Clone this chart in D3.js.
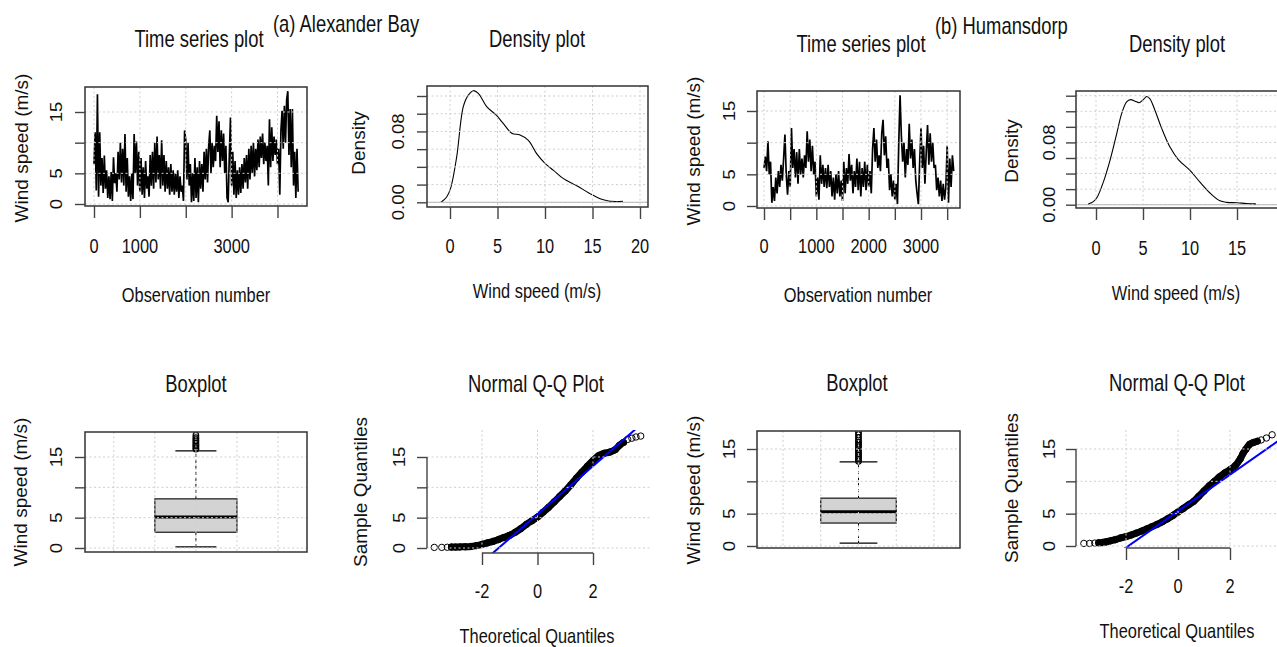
<!DOCTYPE html>
<html>
<head>
<meta charset="utf-8">
<script src="https://cdn.jsdelivr.net/npm/d3@7"></script>
<style>
  body { margin: 0; background: #fff; }
  svg { display: block; }
  text { font-family: "Liberation Sans", Arial, sans-serif; fill: #111; }
</style>
</head>
<body>
<svg id="chart" width="1277" height="647"></svg>
<script>
// ---- data ----
const obsStep = 25;  // one value per 25 observations

const tsAlexander = [6.5, 11.7, 2.2, 17.9, 1.2, 11.7, 3, 7.5, 1.8, 7.9, 2.5, 5.5, 1.0, 4.5, 0.8, 5.2, 0.5, 7.6, 3.4, 5.0,
  2.0, 8.5, 4.0, 10.0, 3.5, 9.0, 3.0, 11.4, 2.0, 7.5, 1.2, 4.5, 0.5, 5.0, 0.8, 11.4, 5.0, 10.2, 3.0, 8.5,
  2.0, 7.5, 1.5, 6.0, 1.0, 7.0, 2.5, 4.5, 1.2, 8.0, 3.0, 8.5, 2.5, 10.0, 3.5, 11.0, 4.0, 8.0, 2.5, 10.4,
  3.0, 8.0, 2.0, 7.0, 2.5, 6.0, 1.5, 6.5, 2.0, 5.5, 1.5, 5.0, 2.0, 5.5, 1.0, 4.5, 2.0, 3.0, 0.5, 12.0,
  10.5, 4.0, 10.0, 3.0, 6.5, 0.3, 5.0, 0.5, 7.5, 1.0, 6.0, 0.3, 7.0, 2.5, 6.5, 2.0, 8.5, 4.0, 9.0, 3.5,
  9.5, 12.0, 5.0, 10.0, 6.0, 9.5, 7.0, 14.4, 8.5, 13.5, 6.0, 12.0, 7.0, 11.5, 5.0, 9.5, 1.0, 0.3, 8.0, 14.1,
  3.0, 8.5, 1.5, 7.0, 1.0, 5.5, 1.5, 6.0, 1.8, 6.5, 2.5, 7.5, 3.5, 8.0, 2.5, 9.0, 4.0, 9.5, 5.0, 10.0,
  4.5, 9.0, 5.5, 10.5, 6.0, 11.0, 7.5, 11.5, 6.5, 10.0, 7.0, 9.5, 3.0, 13.8, 6.0, 12.5, 7.0, 11.0, 8.0, 10.5,
  6.5, 9.0, 1.5, 12.0, 15.2, 9.0, 16.0, 10.0, 17.0, 18.4, 8.0, 15.5, 6.0, 15.5, 3.0, 8.5, 1.0, 9.0, 2.0];

const tsHumansdorp = [6.0, 7.8, 5.5, 10.2, 5.0, 7.0, 0.5, 3.0, 0.8, 4.5, 2.0, 5.5, 3.0, 6.5, 4.0, 7.5, 11.3, 5.0, 1.8, 5.5,
  3.0, 12.3, 6.0, 9.0, 4.5, 8.5, 3.5, 9.0, 5.0, 7.5, 4.5, 8.0, 6.0, 11.8, 7.0, 10.5, 5.5, 9.5, 5.0, 7.0,
  1.5, 4.5, 1.0, 8.0, 3.5, 6.5, 3.0, 6.0, 2.8, 6.5, 3.0, 5.5, 1.5, 4.5, 1.0, 5.0, 2.0, 5.5, 1.5, 4.0,
  0.8, 7.0, 2.0, 6.0, 3.5, 8.2, 4.0, 6.5, 2.0, 5.5, 3.0, 7.5, 2.5, 7.0, 1.5, 6.0, 3.0, 7.0, 2.5, 6.5,
  3.0, 5.5, 2.0, 9.0, 12.3, 7.0, 10.5, 6.0, 8.0, 5.5, 11.5, 13.6, 8.0, 11.0, 6.0, 7.5, 2.5, 5.0, 1.5, 4.0,
  1.0, 3.5, 0.3, 10.0, 17.5, 11.0, 7.0, 10.0, 4.5, 9.0, 6.5, 13.0, 7.5, 10.5, 6.0, 9.0, 4.0, 2.0, 0.3, 7.0,
  12.3, 6.0, 9.5, 3.5, 8.5, 12.8, 6.5, 11.5, 7.0, 10.0, 6.0, 6.5, 2.5, 4.5, 1.5, 4.0, 0.8, 3.5, 1.0, 3.0,
  9.5, 0.5, 7.5, 3.0, 8.0, 5.5];

const densAlexX = [-0.95, -0.35, 0.07, 0.7, 1.4, 1.93, 2.46, 2.98, 3.86, 4.9, 5.6, 6.5, 7.37, 8.25, 9.12, 10.0, 10.9, 11.9, 13.3, 14.7, 15.8, 16.7, 18.2];
const densAlexY = [0.0, 0.006, 0.016, 0.051, 0.108, 0.121, 0.126, 0.123, 0.108, 0.098, 0.089, 0.078, 0.076, 0.070, 0.055, 0.044, 0.036, 0.027, 0.019, 0.010, 0.004, 0.0015, 0.001];

const densHumX = [-0.82, -0.28, 0.14, 0.78, 1.49, 2.2, 2.73, 3.26, 3.69, 4.15, 4.61, 5.03, 5.39, 5.74, 6.28, 6.99, 7.87, 8.76, 10.0, 11.06, 12.13, 13.19, 13.9, 15.0, 16.0, 17.0];
const densHumY = [0.001, 0.004, 0.010, 0.029, 0.057, 0.091, 0.117, 0.132, 0.135, 0.133, 0.131, 0.135, 0.139, 0.136, 0.121, 0.098, 0.074, 0.058, 0.044, 0.029, 0.015, 0.005, 0.003, 0.0025, 0.0015, 0.001];

// lower whisker, Q1, median, Q3, upper whisker
const boxAlexStats = [0.2, 2.6, 5.1, 8.1, 16.0];
const boxAlexOut = [16.3, 16.5, 16.8, 17.0, 17.3, 17.6, 17.9, 18.2, 18.6];
const boxHumStats = [0.45, 3.55, 5.3, 7.4, 13.0];
const boxHumOut = [13.1, 13.4, 13.7, 14.0, 14.3, 14.6, 14.9, 15.2, 15.5, 15.8, 16.1, 16.4, 16.8, 17.2, 17.6];

const qqAlexTheo = [-3.72, -3.45, -3.25, -3.1, -2.95, -2.8, -2.6, -2.4, -2.2, -2.0, -1.8, -1.6, -1.4, -1.2, -1.0, -0.8, -0.6, -0.4, -0.2, 0,
  0.2, 0.4, 0.6, 0.8, 1.0, 1.2, 1.4, 1.6, 1.8, 2.0, 2.2, 2.4, 2.6, 2.8, 2.95, 3.1, 3.25, 3.4, 3.55, 3.72];
const qqAlexSample = [0.1, 0.1, 0.12, 0.15, 0.15, 0.18, 0.2, 0.25, 0.4, 0.6, 0.85, 1.1, 1.4, 1.75, 2.1, 2.6, 3.2, 3.9, 4.5, 5.1,
  5.9, 6.7, 7.6, 8.5, 9.4, 10.4, 11.5, 12.5, 13.5, 14.4, 15.2, 15.6, 15.8, 16.2, 16.9, 17.4, 17.9, 18.1, 18.3, 18.45];
const qqAlexLine = [5.56, 3.97];  // intercept, slope

const qqHumTheo = [-3.62, -3.4, -3.2, -3.05, -2.9, -2.75, -2.6, -2.4, -2.2, -2.0, -1.8, -1.6, -1.4, -1.2, -1.0, -0.8, -0.6, -0.4, -0.2, 0,
  0.2, 0.4, 0.6, 0.8, 1.0, 1.2, 1.4, 1.6, 1.8, 2.0, 2.2, 2.4, 2.5, 2.6, 2.75, 2.9, 3.05, 3.2, 3.4, 3.62];
const qqHumSample = [0.4, 0.4, 0.45, 0.5, 0.55, 0.65, 0.8, 1.0, 1.25, 1.45, 1.7, 2.0, 2.3, 2.65, 3.0, 3.35, 3.75, 4.2, 4.7, 5.25,
  5.8, 6.35, 6.9, 7.7, 8.5, 9.3, 10.0, 10.7, 11.3, 11.8, 12.4, 13.5, 14.3, 14.9, 15.7, 16.0, 16.2, 16.4, 16.7, 17.2];
const qqHumLine = [5.39, 2.82];

// ticks
const windTicks = [0, 5, 10, 15];
const windLabels = [0, 5, 15];
const tsAlexTicks = [0, 1000, 2000, 3000, 4000];
const tsAlexLabels = [0, 1000, 3000];
const tsHumTicks = [0, 500, 1000, 1500, 2000, 2500, 3000, 3500];
const tsHumLabels = [0, 1000, 2000, 3000];
const densAlexXTicks = [0, 5, 10, 15, 20];
const densHumXTicks = [0, 5, 10, 15];
const densAlexYTicks = [0, 0.02, 0.04, 0.06, 0.08, 0.10, 0.12];
const densHumYTicks = [0, 0.02, 0.04, 0.06, 0.08, 0.10, 0.12, 0.14];
const densYLabels = [0, 0.08];
const boxGridTicks = [0.6, 0.8, 1.0, 1.2, 1.4];
const qqXTicks = [-2, 0, 2];

// ---- drawing ----
const SX = 0.8;   // the source figure is squeezed horizontally
const svg = d3.select('#chart');

function label(g, x, y, str, size, rotate, anchor) {
  g.append('text')
    .text(str)
    .attr('font-size', size)
    .attr('text-anchor', anchor || 'middle')
    .attr('transform', rotate ? `translate(${x},${y}) scale(0.92,1) rotate(-90)` : `translate(${x},${y}) scale(${SX},1)`);
}

let clipId = 0;
function panel(p) {
  const g = svg.append('g');
  const x = d3.scaleLinear().domain(p.xRef).range(p.xPix);
  const y = d3.scaleLinear().domain(p.yRef).range(p.yPix);
  const [L, T, R, B] = p.rect;
  const id = 'clip' + (clipId++);
  g.append('clipPath').attr('id', id)
    .append('rect').attr('x', L).attr('y', T).attr('width', R - L).attr('height', B - T);
  const data = g.append('g').attr('clip-path', `url(#${id})`);
  return { g, data, x, y, L, T, R, B, p };
}

function grid(P, xTicks, yTicks) {
  const gg = P.g.append('g')
    .attr('stroke', '#cfcfcf').attr('stroke-width', 1).attr('stroke-dasharray', '2,2.5');
  gg.selectAll('.gx').data(xTicks).join('line')
    .attr('x1', d => P.x(d)).attr('x2', d => P.x(d)).attr('y1', P.T).attr('y2', P.B);
  gg.selectAll('.gy').data(yTicks).join('line')
    .attr('y1', d => P.y(d)).attr('y2', d => P.y(d)).attr('x1', P.L).attr('x2', P.R);
}

function frame(P) {
  P.g.append('rect')
    .attr('x', P.L).attr('y', P.T).attr('width', P.R - P.L).attr('height', P.B - P.T)
    .attr('fill', 'none').attr('stroke', '#333').attr('stroke-width', 1.5);
}

function axes(P, xTicks, yTicks, axisLines) {
  const ya = P.g.append('g').attr('transform', `translate(${P.L},0)`)
    .call(d3.axisLeft(P.y).tickValues(yTicks).tickSize(10).tickSizeOuter(0).tickFormat(''));
  ya.select('.domain').remove();
  ya.selectAll('line').attr('stroke', '#444').attr('stroke-width', 1.4);
  if (xTicks) {
    const xa = P.g.append('g').attr('transform', `translate(0,${P.B})`)
      .call(d3.axisBottom(P.x).tickValues(xTicks).tickSize(12).tickSizeOuter(0).tickFormat(''));
    xa.select('.domain').remove();
    xa.selectAll('line').attr('stroke', '#444').attr('stroke-width', 1.4);
  }
  if (axisLines) {
    P.g.append('line').attr('x1', P.L).attr('x2', P.L)
      .attr('y1', P.y(yTicks[0])).attr('y2', P.y(yTicks[yTicks.length - 1]))
      .attr('stroke', '#444').attr('stroke-width', 1.4);
    P.g.append('line').attr('y1', P.B).attr('y2', P.B)
      .attr('x1', P.x(xTicks[0])).attr('x2', P.x(xTicks[xTicks.length - 1]))
      .attr('stroke', '#444').attr('stroke-width', 1.4);
  }
}

function texts(P, t) {
  const g = P.g;
  label(g, t.titleX, t.titleY, t.title, 23);
  if (t.xTitle) label(g, t.xTitleX, t.xTitleY, t.xTitle, 20.5);
  label(g, t.yTitleX, t.yTitleY, t.yTitle, 19, true);
  (t.xLabels || []).forEach(v => label(g, P.x(v), t.xTickY, t.xFmt ? t.xFmt(v) : String(v), 20.5));
  t.yLabels.forEach(v => label(g, t.yTickX, P.y(v), t.yFmt ? t.yFmt(v) : String(v), 18.5, true));
}

function timeSeries(P, values) {
  const line = d3.line().x((d, i) => P.x(i * obsStep)).y(d => P.y(d));
  P.data.append('path').datum(values)
    .attr('d', line).attr('fill', 'none').attr('stroke', '#000').attr('stroke-width', 1.7)
    .attr('stroke-linejoin', 'bevel');
}

function density(P, xs, ys) {
  P.data.append('line').attr('x1', P.L).attr('x2', P.R).attr('y1', P.y(0)).attr('y2', P.y(0))
    .attr('stroke', '#bdbdbd').attr('stroke-width', 1.2);
  const pts = xs.map((v, i) => [v, ys[i]]);
  const line = d3.line().x(d => P.x(d[0])).y(d => P.y(d[1])).curve(d3.curveCatmullRom);
  P.data.append('path').datum(pts)
    .attr('d', line).attr('fill', 'none').attr('stroke', '#000').attr('stroke-width', 1.1);
}

function boxplot(P, s, out) {
  const [lo, q1, med, q3, hi] = s;
  const g = P.data;
  g.append('line').attr('x1', P.x(1)).attr('x2', P.x(1)).attr('y1', P.y(q3)).attr('y2', P.y(hi))
    .attr('stroke', '#000').attr('stroke-dasharray', '3,3');
  g.append('line').attr('x1', P.x(1)).attr('x2', P.x(1)).attr('y1', P.y(q1)).attr('y2', P.y(lo))
    .attr('stroke', '#000').attr('stroke-dasharray', '3,3');
  [lo, hi].forEach(v => g.append('line')
    .attr('x1', P.x(0.9)).attr('x2', P.x(1.1)).attr('y1', P.y(v)).attr('y2', P.y(v))
    .attr('stroke', '#000').attr('stroke-width', 1.3));
  g.append('rect').attr('x', P.x(0.8)).attr('width', P.x(1.2) - P.x(0.8))
    .attr('y', P.y(q3)).attr('height', P.y(q1) - P.y(q3))
    .attr('fill', '#d3d3d3').attr('stroke', '#000').attr('stroke-width', 1.1);
  g.append('line').attr('x1', P.x(0.8)).attr('x2', P.x(1.2)).attr('y1', P.y(med)).attr('y2', P.y(med))
    .attr('stroke', '#000').attr('stroke-width', 3);
  g.selectAll('.out').data(out).join('circle')
    .attr('cx', P.x(1)).attr('cy', d => P.y(d)).attr('r', 2.8)
    .attr('fill', 'none').attr('stroke', '#000').attr('stroke-width', 1.2);
}

function qq(P, theo, sample, ab) {
  const pts = theo.map((v, i) => [v, sample[i]]);
  const band = pts.filter(d => Math.abs(d[0]) < 3.2);
  P.data.append('path').datum(band)
    .attr('d', d3.line().x(d => P.x(d[0])).y(d => P.y(d[1])).curve(d3.curveCatmullRom))
    .attr('fill', 'none').attr('stroke', '#000').attr('stroke-width', 7).attr('stroke-linecap', 'round');
  P.data.selectAll('.pt').data(pts).join('circle')
    .attr('cx', d => P.x(d[0])).attr('cy', d => P.y(d[1])).attr('r', 3.2)
    .attr('fill', 'none').attr('stroke', '#000').attr('stroke-width', 1);
  const x0 = P.x.invert(P.L), x1 = P.x.invert(P.R);
  P.data.append('line')
    .attr('x1', P.x(x0)).attr('y1', P.y(ab[0] + ab[1] * x0))
    .attr('x2', P.x(x1)).attr('y2', P.y(ab[0] + ab[1] * x1))
    .attr('stroke', '#0000ff').attr('stroke-width', 2);
}

const f2 = d3.format('.2f');

// (a) Alexander Bay
const p1 = panel({ xRef: [0, 4000], xPix: [94, 277.5], yRef: [0, 15], yPix: [204, 112], rect: [85, 87, 307, 206] });
timeSeries(p1, tsAlexander);
grid(p1, tsAlexTicks, windTicks);
frame(p1);
axes(p1, tsAlexTicks, windTicks);
texts(p1, { title: 'Time series plot', titleX: 199, titleY: 47, xTitle: 'Observation number', xTitleX: 196, xTitleY: 302,
  yTitle: 'Wind speed (m/s)', yTitleX: 28, yTitleY: 148, xLabels: tsAlexLabels, xTickY: 253, yLabels: windLabels, yTickX: 62 });

const p2 = panel({ xRef: [0, 20], xPix: [450, 640], yRef: [0, 0.12], yPix: [202.3, 96], rect: [427, 86, 648, 207] });
density(p2, densAlexX, densAlexY);
grid(p2, densAlexXTicks, densAlexYTicks);
frame(p2);
axes(p2, densAlexXTicks, densAlexYTicks);
texts(p2, { title: 'Density plot', titleX: 537, titleY: 47, xTitle: 'Wind speed (m/s)', xTitleX: 537, xTitleY: 298,
  yTitle: 'Density', yTitleX: 365, yTitleY: 143, xLabels: densAlexXTicks, xTickY: 253, yLabels: densYLabels, yTickX: 404, yFmt: f2 });

const p5 = panel({ xRef: [0.6, 1.4], xPix: [113.8, 278], yRef: [0, 15], yPix: [548, 457], rect: [85, 432, 307, 552] });
boxplot(p5, boxAlexStats, boxAlexOut);
grid(p5, boxGridTicks, windTicks);
frame(p5);
axes(p5, null, windTicks);
texts(p5, { title: 'Boxplot', titleX: 196, titleY: 392, yTitle: 'Wind speed (m/s)', yTitleX: 27, yTitleY: 492,
  yLabels: windLabels, yTickX: 62 });

const p6 = panel({ xRef: [-2, 2], xPix: [482, 593], yRef: [0, 15], yPix: [548, 457], rect: [427, 430, 650, 553] });
grid(p6, qqXTicks, windTicks);
qq(p6, qqAlexTheo, qqAlexSample, qqAlexLine);
axes(p6, qqXTicks, windTicks, true);
texts(p6, { title: 'Normal Q-Q Plot', titleX: 536, titleY: 392, xTitle: 'Theoretical Quantiles', xTitleX: 537, xTitleY: 643,
  yTitle: 'Sample Quantiles', yTitleX: 367, yTitleY: 492, xLabels: qqXTicks, xTickY: 598, yLabels: windLabels, yTickX: 405 });

// (b) Humansdorp
const p3 = panel({ xRef: [0, 3000], xPix: [764, 921], yRef: [0, 15], yPix: [206, 111], rect: [757, 91, 960, 208] });
timeSeries(p3, tsHumansdorp);
grid(p3, tsHumTicks, windTicks);
frame(p3);
axes(p3, tsHumTicks, windTicks);
texts(p3, { title: 'Time series plot', titleX: 861, titleY: 52, xTitle: 'Observation number', xTitleX: 858, xTitleY: 302,
  yTitle: 'Wind speed (m/s)', yTitleX: 700, yTitleY: 151, xLabels: tsHumLabels, xTickY: 253, yLabels: windLabels, yTickX: 735 });

const p4 = panel({ xRef: [0, 15], xPix: [1096, 1237], yRef: [0, 0.14], yPix: [204.7, 95.7], rect: [1076, 91, 1282, 208] });
density(p4, densHumX, densHumY);
grid(p4, densHumXTicks, densHumYTicks);
frame(p4);
axes(p4, densHumXTicks, densHumYTicks);
texts(p4, { title: 'Density plot', titleX: 1177, titleY: 52, xTitle: 'Wind speed (m/s)', xTitleX: 1176, xTitleY: 300,
  yTitle: 'Density', yTitleX: 1018, yTitleY: 151, xLabels: densHumXTicks, xTickY: 255, yLabels: densYLabels, yTickX: 1055, yFmt: f2 });

const p7 = panel({ xRef: [0.6, 1.4], xPix: [783, 934], yRef: [0, 15], yPix: [546, 449], rect: [757, 431, 960, 548] });
boxplot(p7, boxHumStats, boxHumOut);
grid(p7, boxGridTicks, windTicks);
frame(p7);
axes(p7, null, windTicks);
texts(p7, { title: 'Boxplot', titleX: 857, titleY: 391, yTitle: 'Wind speed (m/s)', yTitleX: 700, yTitleY: 490,
  yLabels: windLabels, yTickX: 735 });

const p8 = panel({ xRef: [-2, 2], xPix: [1126, 1230], yRef: [0, 15], yPix: [546, 449], rect: [1076, 430, 1282, 548] });
grid(p8, qqXTicks, windTicks);
qq(p8, qqHumTheo, qqHumSample, qqHumLine);
axes(p8, qqXTicks, windTicks, true);
texts(p8, { title: 'Normal Q-Q Plot', titleX: 1177, titleY: 391, xTitle: 'Theoretical Quantiles', xTitleX: 1177, xTitleY: 638,
  yTitle: 'Sample Quantiles', yTitleX: 1018, yTitleY: 488, xLabels: qqXTicks, xTickY: 593, yLabels: windLabels, yTickX: 1055 });

// station labels
label(svg, 273, 32, '(a) Alexander Bay', 23, false, 'start');
label(svg, 935, 34, '(b) Humansdorp', 23, false, 'start');
</script>
</body>
</html>
